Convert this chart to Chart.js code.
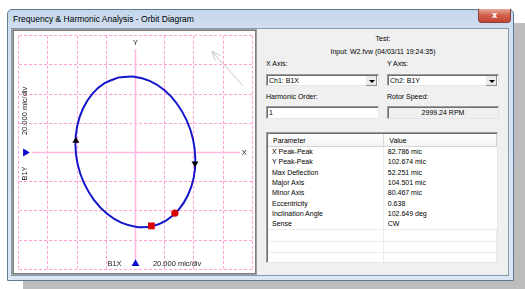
<!DOCTYPE html>
<html>
<head>
<meta charset="utf-8">
<script src="https://cdn.jsdelivr.net/npm/chart.js@4.4.0/dist/chart.umd.min.js"></script>
<style>
body { margin: 0; width: 525px; height: 289px; background: #fff; position: relative; overflow: hidden;
       font-family: "Liberation Sans", Arial, sans-serif; font-size: 7px; color: #000; }
.abs { position: absolute; }
#shadow { left: 23px; top: 23px; width: 502px; height: 266px; background: #bdbdbd; }
#win { left: 7px; top: 9px; width: 505px; height: 270px; border: 1px solid #5f7a96; border-radius: 5px 5px 0 0;
       background: linear-gradient(#c3d7ec, #d3e1f1 22px, #dbe7f4); }
#title { left: 13px; top: 14px; font-size: 8.5px; white-space: nowrap; color: #000; }
#close { left: 478px; top: 9px; width: 31px; height: 13px; border: 1px solid #8a4038; border-top: none;
         border-radius: 0 0 4px 4px; background: linear-gradient(#e8a99c, #d0604c 50%, #c24533);
         color: #fff; font: bold 8px "DejaVu Sans", sans-serif; text-align: center; line-height: 13px; }
#client { left: 11px; top: 28px; width: 496px; height: 246px; background: #f0f0f0; border: 1px solid #8799ad; }
#plotFrame { left: 12px; top: 29px; width: 243px; height: 244px; border: 1px solid #a0a0a0; background: #fff; }
#plotInner { left: 13px; top: 30px; width: 241px; height: 242px; border: 1px solid #7d7d7d; background: #fff; }
#chartBox { left: 14px; top: 31px; width: 243px; height: 243px; }
.lbl { white-space: nowrap; color: #000; }
.box { background: #fff; border: 1px solid; border-color: #9c9c9c #e6e6e6 #e6e6e6 #9c9c9c;
       box-shadow: inset 1px 1px 0 #6d6d6d; height: 12px; line-height: 12px; padding-left: 2px; box-sizing: border-box; }
.btn { right: 1px; top: 1px; width: 11px; height: 10px; background: #ececec;
       border-left: 1px solid #fff; box-shadow: inset -1px -1px 0 #8c8c8c; }
.btn::after { content: ""; position: absolute; left: 3px; top: 4px; border-left: 3px solid transparent;
              border-right: 3px solid transparent; border-top: 3px solid #000; }
#list { left: 266px; top: 132px; width: 232px; height: 131px; background: #fff; border: 1px solid;
        border-color: #9c9c9c #e6e6e6 #e6e6e6 #9c9c9c; box-shadow: inset 1px 1px 0 #6d6d6d; box-sizing: border-box; overflow: hidden; }
#list table { border-collapse: collapse; position: absolute; left: 1px; top: 1px; table-layout: fixed; }
#list th { font-weight: normal; text-align: left; height: 12px; padding: 0 0 0 5px; background: linear-gradient(#fff, #f3f3f3);
           border-right: 1px solid #d5d5d5; border-bottom: 1px solid #d5d5d5; }
#list td { height: 10.3px; line-height: 10px; padding: 0 0 0 4px; white-space: nowrap; }
#list tr.empty td { border-top: 1px solid #ececec; border-right: 1px solid #ececec; }
#colLine { left: 116px; top: 14px; width: 1px; height: 116px; background: #efefef; }
</style>
</head>
<body>
<div class="abs" id="shadow"></div>
<div class="abs" id="win"></div>
<div class="abs" id="title">Frequency &amp; Harmonic Analysis - Orbit Diagram</div>
<div class="abs" id="close">x</div>
<div class="abs" id="client"></div>
<div class="abs" id="plotFrame"></div>
<div class="abs" id="plotInner"></div>
<div class="abs" id="chartBox"><canvas id="orbitChart" width="243" height="243"></canvas></div>

<div class="abs lbl" style="left:262px; top:35px; width:242px; text-align:center;">Test:</div>
<div class="abs lbl" style="left:262px; top:48px; width:242px; text-align:center;">Input: W2.fvw (04/03/11 19:24:35)</div>

<div class="abs lbl" style="left:266px; top:60px;">X Axis:</div>
<div class="abs box" style="left:266px; top:74px; width:113px;">Ch1: B1X<div class="abs btn"></div></div>
<div class="abs lbl" style="left:387px; top:60px;">Y Axis:</div>
<div class="abs box" style="left:387px; top:74px; width:112px;">Ch2: B1Y<div class="abs btn"></div></div>

<div class="abs lbl" style="left:266px; top:93px;">Harmonic Order:</div>
<div class="abs box" style="left:266px; top:106px; width:113px; height:13px;">1</div>
<div class="abs lbl" style="left:387px; top:93px;">Rotor Speed:</div>
<div class="abs box" style="left:387px; top:106px; width:112px; height:13px; background:#f0f0f0; text-align:center; padding:0;">2999.24 RPM</div>

<div class="abs" id="list"><div class="abs" id="colLine"></div><table id="paramTable"></table></div>

<script>
// Orbit points (mic)
const orbitX = [-11.4, -21.2, -29.6, -35.9, -39.9, -41.2, -39.6, -35.2, -28.4, -19.7, -9.7, 0.9,
                11.4, 21.2, 29.6, 35.9, 39.9, 41.0, 39.4, 35.0, 28.3, 19.7, 9.7, -0.9, -11.4];
const orbitY = [51.5, 47.5, 40.2, 30.3, 18.4, 5.2, -8.3, -21.2, -32.6, -41.8, -48.1, -51.0,
                -50.5, -46.5, -39.2, -29.3, -17.4, -4.2, 9.3, 22.2, 33.6, 42.8, 49.1, 52.0, 51.5];

// direction arrows on the orbit (x, y, rotation)
const arrowX = [-40.9, 40.8];
const arrowY = [8.0, -7.5];
const arrowRot = [0, 180];

// keyphasor marks
const squareMark = [10.9, -50.3];
const circleMark = [27.0, -41.6];

// channel markers on the edges
const chanX = [-75.5, 0];
const chanY = [0, -76.2];
const chanRot = [90, 0];

// scale: 20 mic/div, 8 divisions
const axisMin = -80, axisMax = 80, axisStep = 20;

// gray view arrow, tail then tip
const viewArrow = [[73.5, 46], [52.2, 69.5]];

const paramNames = ['X Peak-Peak', 'Y Peak-Peak', 'Max Deflection', 'Major Axis', 'Minor Axis',
                    'Eccentricity', 'Inclination Angle', 'Sense'];
const paramValues = ['82.786 mic', '102.674 mic', '52.251 mic', '104.501 mic', '80.467 mic',
                     '0.638', '102.649 deg', 'CW'];

// Parameter table
const table = document.getElementById('paramTable');
let html = '<colgroup><col style="width:116px"><col style="width:113px"></colgroup>';
html += '<tr><th>Parameter</th><th>Value</th></tr>';
paramNames.forEach((name, i) => {
    html += '<tr><td>' + name + '</td><td>' + paramValues[i] + '</td></tr>';
});
for (let i = 0; i < 4; i++) html += '<tr class="empty"><td></td><td></td></tr>';
table.innerHTML = html;

Chart.defaults.font.family = '"Liberation Sans", Arial, sans-serif';

const pink = '#ff9fd3';

const decorations = {
    id: 'decorations',
    beforeDatasetsDraw(chart) {
        const { ctx, scales: { x, y } } = chart;
        ctx.save();
        // solid axis lines
        ctx.strokeStyle = '#ffb8dd';
        ctx.lineWidth = 1.6;
        ctx.beginPath();
        ctx.moveTo(x.getPixelForValue(0), y.getPixelForValue(70.8));
        ctx.lineTo(x.getPixelForValue(0), y.getPixelForValue(-74));
        ctx.moveTo(x.getPixelForValue(-71), y.getPixelForValue(0));
        ctx.lineTo(x.getPixelForValue(71.5), y.getPixelForValue(0));
        ctx.stroke();

        // gray arrow
        const x0 = x.getPixelForValue(viewArrow[0][0]), y0 = y.getPixelForValue(viewArrow[0][1]);
        const x1 = x.getPixelForValue(viewArrow[1][0]), y1 = y.getPixelForValue(viewArrow[1][1]);
        const ang = Math.atan2(y1 - y0, x1 - x0);
        ctx.strokeStyle = '#c9c9c9';
        ctx.lineWidth = 1;
        ctx.beginPath();
        ctx.moveTo(x0, y0);
        ctx.lineTo(x1, y1);
        ctx.moveTo(x1 - 10 * Math.cos(ang - 0.35), y1 - 10 * Math.sin(ang - 0.35));
        ctx.lineTo(x1, y1);
        ctx.lineTo(x1 - 10 * Math.cos(ang + 0.35), y1 - 10 * Math.sin(ang + 0.35));
        ctx.stroke();
        ctx.restore();
    },
    afterDatasetsDraw(chart) {
        const { ctx, scales: { x, y } } = chart;
        ctx.save();
        ctx.fillStyle = '#222';
        ctx.font = '7.5px "Liberation Sans", Arial, sans-serif';
        ctx.textAlign = 'center';
        ctx.textBaseline = 'middle';
        ctx.fillText('Y', x.getPixelForValue(0), y.getPixelForValue(75.3));
        ctx.fillText('X', x.getPixelForValue(74.6), y.getPixelForValue(0));
        ctx.fillText('B1X', x.getPixelForValue(-14.4), y.getPixelForValue(-76.2));
        ctx.fillText('20.000 mic/div', x.getPixelForValue(28.5), y.getPixelForValue(-76.2));
        const vert = (txt, vy) => {
            ctx.save();
            ctx.translate(x.getPixelForValue(-75.7), y.getPixelForValue(vy));
            ctx.rotate(-Math.PI / 2);
            ctx.fillText(txt, 0, 0);
            ctx.restore();
        };
        vert('B1Y', -14.4);
        vert('20.000 mic/div', 28.5);
        ctx.restore();
    }
};

const gridColor = c => c.tick && c.tick.value === 0 ? 'rgba(0,0,0,0)' : pink;

const orbitCtx = document.getElementById('orbitChart').getContext('2d');
const orbitChart = new Chart(orbitCtx, {
    type: 'scatter',
    data: {
        datasets: [{
            data: orbitX.map((v, i) => ({ x: v, y: orbitY[i] })),
            showLine: true,
            borderColor: '#1515c9',
            borderWidth: 2,
            pointRadius: 0,
            tension: 0.35,
            order: 10
        }, {
            data: arrowX.map((v, i) => ({ x: v, y: arrowY[i] })),
            pointStyle: 'triangle',
            rotation: arrowRot,
            pointRadius: 4,
            backgroundColor: '#000',
            borderColor: '#000',
            borderWidth: 0,
            order: 1
        }, {
            data: [{ x: squareMark[0], y: squareMark[1] }],
            pointStyle: 'rect',
            pointRadius: 4.8,
            backgroundColor: '#d80000',
            borderColor: '#d80000',
            borderWidth: 0,
            order: 0
        }, {
            data: [{ x: circleMark[0], y: circleMark[1] }],
            pointStyle: 'circle',
            pointRadius: 3.6,
            backgroundColor: '#d80000',
            borderColor: '#d80000',
            borderWidth: 0,
            order: 0
        }, {
            data: chanX.map((v, i) => ({ x: v, y: chanY[i] })),
            pointStyle: 'triangle',
            rotation: chanRot,
            pointRadius: 4.5,
            backgroundColor: '#0a0acc',
            borderColor: '#0a0acc',
            borderWidth: 0,
            order: 0
        }]
    },
    options: {
        responsive: false,
        animation: false,
        layout: { padding: 2 },
        plugins: {
            legend: { display: false },
            tooltip: { enabled: false }
        },
        scales: {
            x: {
                type: 'linear',
                min: axisMin,
                max: axisMax,
                ticks: { display: false, stepSize: axisStep },
                border: { display: false, dash: [3, 2] },
                grid: { drawTicks: false, color: gridColor, lineWidth: 1 }
            },
            y: {
                type: 'linear',
                min: axisMin,
                max: axisMax,
                ticks: { display: false, stepSize: axisStep },
                border: { display: false, dash: [3, 2] },
                grid: { drawTicks: false, color: gridColor, lineWidth: 1 }
            }
        }
    },
    plugins: [decorations]
});
</script>
</body>
</html>
